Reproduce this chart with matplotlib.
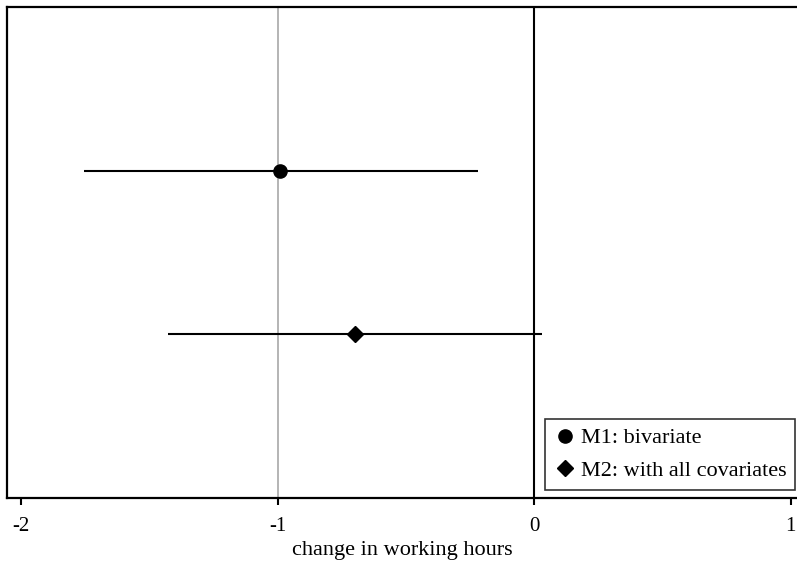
# coefficient plot: change in working hours, two models

import matplotlib.pyplot as plt

# -- data --
models = ['M1: bivariate', 'M2: with all covariates']
estimate = [-0.989, -0.700]
ci_low = [-1.754, -1.428]
ci_high = [-0.219, 0.030]
markers = ['o', 'D']
msizes = [9.5, 8]

plt.rcParams['font.family'] = ['Liberation Serif', 'DejaVu Serif']
plt.rcParams['axes.unicode_minus'] = False

fig = plt.figure(figsize=(7.97, 5.61), dpi=100)
ax = fig.add_axes([7 / 797, 63 / 561, 790 / 797, 491 / 561])

# reference lines
ax.axvline(-1, color='#a8a8a8', lw=1.2, zorder=1)
ax.axvline(0, color='black', lw=1.5, zorder=1)

for i, name in enumerate(models):
    y = i + 1
    ax.hlines(y, ci_low[i], ci_high[i], color='black', lw=1.5, zorder=2)
    ax.plot(estimate[i], y, marker=markers[i], ms=msizes[i], color='black',
            ls='none', label=name, zorder=3)

ax.set_xlim(-2.055, 1.025)
ax.set_ylim(3, 0)
ax.set_xticks([-2, -1, 0, 1])
ax.set_yticks([])
ax.tick_params(axis='x', direction='out', length=5, width=1.5, labelsize=15, pad=9)
ax.set_xlabel('change in working hours', fontsize=16, labelpad=3)

for side in ['left', 'bottom', 'top']:
    ax.spines[side].set_linewidth(1.6)
ax.spines['right'].set_visible(False)

leg = ax.legend(loc='lower right', bbox_to_anchor=(0.9975, 0.016), fontsize=16,
                frameon=True, fancybox=False, handletextpad=0.2,
                handlelength=1.0, borderpad=0.4, labelspacing=0.55,
                borderaxespad=0)
leg.get_frame().set_edgecolor('black')
leg.get_frame().set_linewidth(1.2)

plt.savefig('out.png', dpi=100)
